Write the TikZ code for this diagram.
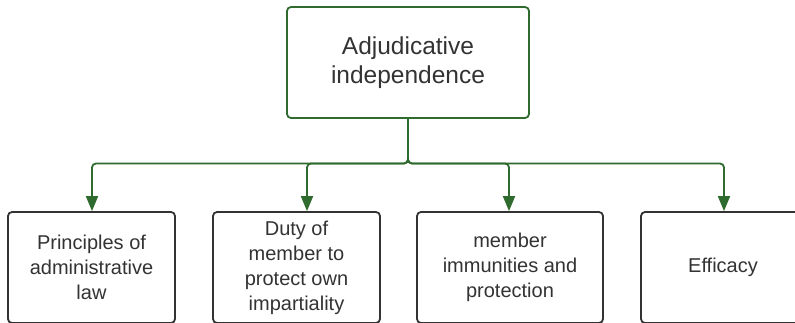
\documentclass[tikz,border=0pt]{standalone}
\usepackage{fontspec}
\setmainfont{Liberation Sans}
\usetikzlibrary{arrows.meta,calc}
\definecolor{lgreen}{HTML}{2F6B2F}
\definecolor{dgray}{HTML}{333333}
\begin{document}
\begin{tikzpicture}[x=1pt,y=-1pt,
  topbox/.style={draw=lgreen,line width=1.8pt,rounded corners=4pt,fill=white,
    minimum width=242pt,minimum height=111pt,inner sep=0pt,align=center,
    text=dgray,font=\fontsize{24.5}{29}\selectfont},
  leafbox/.style={draw=dgray,line width=1.8pt,rounded corners=4pt,fill=white,
    minimum height=111pt,inner sep=0pt,align=center,
    text=dgray,font=\fontsize{20}{25}\selectfont},
  conn/.style={draw=lgreen,line width=1.8pt,rounded corners=4pt,
    -{Triangle[width=12pt,length=15pt]}}]
\useasboundingbox (0,0) rectangle (795,322);
\clip (0,0) rectangle (795,322);
\fill[white] (0,0) rectangle (795,322);
\node[topbox] (top) at (408,62.5) {Adjudicative\\independence};
\node[leafbox,minimum width=167pt] (b1) at (91.5,267.5) {Principles of\\administrative\\law};
\node[leafbox,minimum width=167pt] (b2) at (296.5,267.5) {Duty of\\member to\\protect own\\impartiality};
\node[leafbox,minimum width=186pt] (b3) at (510,267.5) {member\\immunities and\\protection};
\node[leafbox,minimum width=164pt] (b4) at (723,267.5) {Efficacy};
\coordinate (j) at (408,163.5);
\draw[conn] (top.south) -- (j) -| ([xshift=0.5pt]b1.north);
\draw[conn] (top.south) -- (j) -| ([xshift=10.5pt]b2.north);
\draw[conn] (top.south) -- (j) -| ([xshift=-1pt]b3.north);
\draw[conn] (top.south) -- (j) -| ([xshift=1pt]b4.north);
\end{tikzpicture}
\end{document}
